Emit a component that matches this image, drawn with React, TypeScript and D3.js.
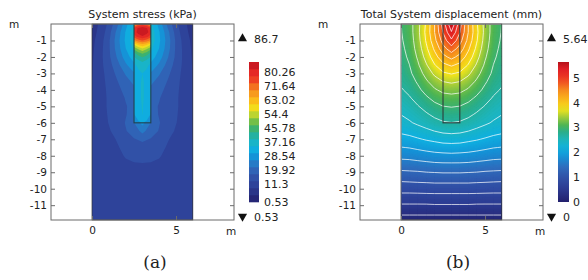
import { useEffect, useRef } from "react";
import * as d3 from "d3";

// model grid, metres (x across, y depth)
const gridX = [0, 0.5, 1, 1.5, 2, 2.5, 3, 3.5, 4, 4.5, 5, 5.5, 6];
const gridY = [0, -0.5, -1, -1.5, -2, -2.5, -3, -3.5, -4, -4.5, -5, -5.5, -6, -6.5, -7, -7.5, -8, -8.5, -9, -9.5, -10, -10.5, -11, -11.5, -12];
const pileX = [2.5, 2.75, 3, 3.25, 3.5];
const pileY = [0, -0.25, -0.5, -0.75, -1, -1.25, -1.5, -1.75, -2, -2.25, -2.5, -3, -3.5, -4, -4.5, -5, -5.5, -6];

// system stress in the soil (kPa), rows follow gridY
const stressSoil = [
  [7.0, 10.0, 14.5, 21.0, 29.0, 36.0, 36.0, 36.0, 29.0, 21.0, 14.5, 10.0, 7.0],
  [7.5, 10.5, 16.0, 23.5, 31.0, 38.0, 38.0, 38.0, 31.0, 23.5, 16.0, 10.5, 7.5],
  [8.0, 11.5, 17.0, 24.5, 31.5, 38.0, 38.0, 38.0, 31.5, 24.5, 17.0, 11.5, 8.0],
  [8.3, 12.0, 17.0, 24.0, 30.5, 36.0, 36.0, 36.0, 30.5, 24.0, 17.0, 12.0, 8.3],
  [8.6, 12.2, 16.8, 22.5, 28.5, 33.0, 33.0, 33.0, 28.5, 22.5, 16.8, 12.2, 8.6],
  [8.8, 12.2, 16.0, 20.5, 25.5, 29.5, 29.5, 29.5, 25.5, 20.5, 16.0, 12.2, 8.8],
  [9.0, 12.0, 15.2, 18.8, 22.5, 26.0, 26.0, 26.0, 22.5, 18.8, 15.2, 12.0, 9.0],
  [9.2, 12.0, 14.6, 17.5, 20.5, 23.0, 23.0, 23.0, 20.5, 17.5, 14.6, 12.0, 9.2],
  [9.4, 12.0, 14.2, 16.6, 19.0, 21.0, 21.0, 21.0, 19.0, 16.6, 14.2, 12.0, 9.4],
  [9.6, 12.0, 14.0, 16.0, 18.0, 19.8, 19.8, 19.8, 18.0, 16.0, 14.0, 12.0, 9.6],
  [9.8, 12.0, 14.0, 16.0, 17.5, 19.0, 19.0, 19.0, 17.5, 16.0, 14.0, 12.0, 9.8],
  [10.0, 12.0, 13.8, 15.8, 17.5, 19.5, 19.5, 19.5, 17.5, 15.8, 13.8, 12.0, 10.0],
  [10.0, 11.8, 13.6, 15.5, 18.0, 22.0, 28.0, 22.0, 18.0, 15.5, 13.6, 11.8, 10.0],
  [10.0, 11.5, 13.0, 15.0, 17.5, 19.5, 23.5, 19.5, 17.5, 15.0, 13.0, 11.5, 10.0],
  [10.0, 11.0, 12.0, 13.8, 16.0, 17.5, 18.5, 17.5, 16.0, 13.8, 12.0, 11.0, 10.0],
  [10.0, 10.8, 11.6, 13.0, 14.8, 16.0, 16.3, 16.0, 14.8, 13.0, 11.6, 10.8, 10.0],
  [10.0, 10.5, 11.2, 12.4, 13.8, 14.4, 14.6, 14.4, 13.8, 12.4, 11.2, 10.5, 10.0],
  [10.0, 10.3, 10.9, 11.8, 12.8, 13.2, 13.3, 13.2, 12.8, 11.8, 10.9, 10.3, 10.0],
  [10.0, 10.2, 10.6, 11.2, 11.8, 12.0, 12.0, 12.0, 11.8, 11.2, 10.6, 10.2, 10.0],
  [10.0, 10.1, 10.4, 10.8, 11.2, 11.4, 11.4, 11.4, 11.2, 10.8, 10.4, 10.1, 10.0],
  [10.0, 10.1, 10.3, 10.6, 10.9, 11.0, 11.0, 11.0, 10.9, 10.6, 10.3, 10.1, 10.0],
  [10.0, 10.0, 10.2, 10.4, 10.6, 10.7, 10.7, 10.7, 10.6, 10.4, 10.2, 10.0, 10.0],
  [10.0, 10.0, 10.1, 10.3, 10.4, 10.5, 10.5, 10.5, 10.4, 10.3, 10.1, 10.0, 10.0],
  [10.0, 10.0, 10.1, 10.2, 10.3, 10.3, 10.3, 10.3, 10.3, 10.2, 10.1, 10.0, 10.0],
  [10.0, 10.0, 10.0, 10.1, 10.2, 10.2, 10.2, 10.2, 10.2, 10.1, 10.0, 10.0, 10.0],
];

// system stress inside the pile (kPa), rows follow pileY
const stressPile = [
  [66, 72, 75, 72, 66],
  [78, 83, 85, 83, 78],
  [80, 84, 86.5, 84, 80],
  [76, 80, 82, 80, 76],
  [68, 72, 74, 72, 68],
  [57, 62, 64, 62, 57],
  [49, 53, 56, 53, 49],
  [43, 47, 49, 47, 43],
  [39, 42, 44, 42, 39],
  [36, 38.5, 40, 38.5, 36],
  [34, 36, 37, 36, 34],
  [32, 34, 35, 34, 32],
  [31.5, 34, 35.5, 34, 31.5],
  [31, 34, 35.5, 34, 31],
  [31, 34, 35.5, 34, 31],
  [31, 33.5, 35.3, 33.5, 31],
  [30.5, 32.5, 35.1, 32.5, 30.5],
  [29, 30, 31, 30, 29],
];

// total displacement (mm), rows follow gridY
const dispSoil = [
  [2.95, 3.10, 3.40, 3.80, 4.30, 4.95, 5.60, 4.95, 4.30, 3.80, 3.40, 3.10, 2.95],
  [2.94, 3.09, 3.41, 3.83, 4.30, 4.85, 5.35, 4.85, 4.30, 3.83, 3.41, 3.09, 2.94],
  [2.92, 3.07, 3.38, 3.79, 4.22, 4.68, 5.05, 4.68, 4.22, 3.79, 3.38, 3.07, 2.92],
  [2.89, 3.04, 3.33, 3.70, 4.08, 4.46, 4.72, 4.46, 4.08, 3.70, 3.33, 3.04, 2.89],
  [2.86, 3.00, 3.26, 3.59, 3.92, 4.21, 4.38, 4.21, 3.92, 3.59, 3.26, 3.00, 2.86],
  [2.82, 2.95, 3.18, 3.46, 3.74, 3.96, 4.06, 3.96, 3.74, 3.46, 3.18, 2.95, 2.82],
  [2.78, 2.90, 3.09, 3.32, 3.55, 3.72, 3.78, 3.72, 3.55, 3.32, 3.09, 2.90, 2.78],
  [2.73, 2.83, 2.99, 3.18, 3.36, 3.49, 3.53, 3.49, 3.36, 3.18, 2.99, 2.83, 2.73],
  [2.66, 2.75, 2.89, 3.05, 3.19, 3.29, 3.32, 3.29, 3.19, 3.05, 2.89, 2.75, 2.66],
  [2.58, 2.66, 2.78, 2.91, 3.03, 3.11, 3.13, 3.11, 3.03, 2.91, 2.78, 2.66, 2.58],
  [2.50, 2.57, 2.67, 2.78, 2.88, 2.95, 2.97, 2.95, 2.88, 2.78, 2.67, 2.57, 2.50],
  [2.42, 2.48, 2.56, 2.65, 2.74, 2.80, 2.82, 2.80, 2.74, 2.65, 2.56, 2.48, 2.42],
  [2.34, 2.39, 2.46, 2.53, 2.60, 2.66, 2.68, 2.66, 2.60, 2.53, 2.46, 2.39, 2.34],
  [2.20, 2.24, 2.30, 2.36, 2.42, 2.47, 2.49, 2.47, 2.42, 2.36, 2.30, 2.24, 2.20],
  [2.04, 2.07, 2.12, 2.17, 2.21, 2.25, 2.26, 2.25, 2.21, 2.17, 2.12, 2.07, 2.04],
  [1.87, 1.89, 1.93, 1.97, 2.00, 2.03, 2.04, 2.03, 2.00, 1.97, 1.93, 1.89, 1.87],
  [1.69, 1.70, 1.73, 1.76, 1.79, 1.80, 1.81, 1.80, 1.79, 1.76, 1.73, 1.70, 1.69],
  [1.50, 1.51, 1.53, 1.55, 1.57, 1.58, 1.58, 1.58, 1.57, 1.55, 1.53, 1.51, 1.50],
  [1.30, 1.31, 1.32, 1.34, 1.35, 1.36, 1.36, 1.36, 1.35, 1.34, 1.32, 1.31, 1.30],
  [1.10, 1.11, 1.12, 1.13, 1.14, 1.14, 1.14, 1.14, 1.14, 1.13, 1.12, 1.11, 1.10],
  [0.91, 0.91, 0.92, 0.92, 0.93, 0.93, 0.93, 0.93, 0.93, 0.92, 0.92, 0.91, 0.91],
  [0.71, 0.71, 0.71, 0.72, 0.72, 0.72, 0.72, 0.72, 0.72, 0.72, 0.71, 0.71, 0.71],
  [0.51, 0.51, 0.51, 0.51, 0.52, 0.52, 0.52, 0.52, 0.52, 0.51, 0.51, 0.51, 0.51],
  [0.31, 0.31, 0.31, 0.31, 0.31, 0.31, 0.31, 0.31, 0.31, 0.31, 0.31, 0.31, 0.31],
  [0.10, 0.10, 0.10, 0.10, 0.10, 0.10, 0.10, 0.10, 0.10, 0.10, 0.10, 0.10, 0.10],
];

const stressRange = [0.53, 86.7];
const dispRange = [0, 5.64];
const stressBarLabels = [80.26, 71.64, 63.02, 54.4, 45.78, 37.16, 28.54, 19.92, 11.3, 0.53];
const dispBarLabels = [0, 1, 2, 3, 4, 5];
const depthTicks = [-1, -2, -3, -4, -5, -6, -7, -8, -9, -10, -11];
const distTicks = [0, 5];

const cmapStops = [0, 0.1, 0.18, 0.25, 0.32, 0.38, 0.44, 0.5, 0.55, 0.61, 0.66, 0.72, 0.8, 0.88, 0.95, 1];
const cmapColors = ["#221f6c", "#2d3c93", "#3152a8", "#2f6dbd", "#1690d6", "#0fb0e0", "#1cb5c0", "#2aae8a", "#4fb553", "#a6cd39", "#f0e41c", "#fbbf1a", "#f58a1f", "#ee3c23", "#e01f26", "#b5121b"];
const cmap = d3.scaleLinear<string>().domain(cmapStops).range(cmapColors).interpolate(d3.interpolateRgb).clamp(true);

const FONT = "DejaVu Sans";

function fieldPath(xs: number[], ys: number[], x: any, y: any) {
  const ix = d3.scaleLinear().domain(d3.range(xs.length)).range(xs).clamp(true);
  const iy = d3.scaleLinear().domain(d3.range(ys.length)).range(ys).clamp(true);
  return d3.geoPath(
    d3.geoTransform({
      point(px: number, py: number) {
        (this as any).stream.point(x(ix(px - 0.5)), y(iy(py - 0.5)));
      },
    })
  );
}

function contoursOf(xs: number[], ys: number[], rows: number[][], levels: number[]) {
  return d3.contours().size([xs.length, ys.length]).thresholds(levels)(rows.flat());
}

function drawPanel(svg: any, p: any) {
  const left = p.left;
  const right = left + 183;
  const top = 24;
  const bottom = 220;
  const x = d3.scaleLinear().domain([-2.44, 8.45]).range([left, right]);
  const y = d3.scaleLinear().domain([0, -11.9]).range([top, bottom]);
  const g = svg.append("g");

  const defs = g.append("defs");
  defs.append("clipPath").attr("id", p.id + "-clip").append("rect")
    .attr("x", x(0)).attr("y", y(0)).attr("width", x(6) - x(0)).attr("height", y(-11.9) - y(0));
  defs.append("clipPath").attr("id", p.id + "-lclip").append("rect")
    .attr("x", x(0) + 0.8).attr("y", y(0) + 0.8).attr("width", x(6) - x(0) - 1.6).attr("height", y(-11.9) - y(0) - 1.6);

  const field = g.append("g").attr("clip-path", `url(#${p.id}-clip)`);
  const [lo, hi] = p.range;

  if (p.kind === "stress") {
    const levels = d3.range(21).map((k) => lo + (k * (hi - lo)) / 20);
    const soilPath = fieldPath(gridX, gridY, x, y);
    field.append("g").selectAll("path")
      .data(contoursOf(gridX, gridY, stressSoil, levels.slice(0, 20)))
      .join("path")
      .attr("d", soilPath)
      .attr("fill", (_: any, i: number) => cmap((i + 0.5) / 20));
    const pilePath = fieldPath(pileX, pileY, x, y);
    field.append("g").selectAll("path")
      .data(contoursOf(pileX, pileY, stressPile, levels.slice(0, 20)))
      .join("path")
      .attr("d", pilePath)
      .attr("fill", (_: any, i: number) => cmap((i + 0.5) / 20));
  } else {
    const step = 0.04;
    const fillLevels = d3.range(0, hi, step);
    const soilPath = fieldPath(gridX, gridY, x, y);
    field.append("g").selectAll("path")
      .data(contoursOf(gridX, gridY, dispSoil, fillLevels))
      .join("path")
      .attr("d", soilPath)
      .attr("fill", (d: any) => cmap((d.value + step / 2) / hi))
      .attr("stroke", (d: any) => cmap((d.value + step / 2) / hi))
      .attr("stroke-width", 0.3);
    // 20 evenly spaced contour levels
    const lineLevels = d3.range(1, 21).map((k) => (k * hi) / 21);
    g.append("g").attr("clip-path", `url(#${p.id}-lclip)`).selectAll("path")
      .data(contoursOf(gridX, gridY, dispSoil, lineLevels))
      .join("path")
      .attr("d", soilPath)
      .attr("fill", "none")
      .attr("stroke", "#ffffff")
      .attr("stroke-opacity", 0.8)
      .attr("stroke-width", 0.9);
  }

  // pile and domain outlines
  g.append("rect")
    .attr("x", x(2.5)).attr("y", y(0)).attr("width", x(3.5) - x(2.5)).attr("height", y(-6) - y(0))
    .attr("fill", "none").attr("stroke", p.kind === "stress" ? "#23414c" : "#2f3b3b").attr("stroke-width", 1.1);
  g.append("rect")
    .attr("x", x(0)).attr("y", y(0)).attr("width", x(6) - x(0)).attr("height", y(-11.9) - y(0))
    .attr("fill", "none").attr("stroke", "#333").attr("stroke-width", 0.7);

  // frame and inward ticks
  const styleAxis = (sel: any) => {
    sel.select(".domain").remove();
    sel.selectAll("line").attr("stroke", "#6b6b6b");
    sel.selectAll("text").attr("fill", "#222").attr("font-family", FONT).attr("font-size", 10.5);
  };
  g.append("g").attr("transform", `translate(${left},0)`)
    .call(d3.axisLeft(y).tickValues(depthTicks).tickSize(-4).tickPadding(4).tickFormat((d: any) => String(d)))
    .call(styleAxis);
  g.append("g").attr("transform", `translate(${right},0)`)
    .call(d3.axisRight(y).tickValues(depthTicks).tickSize(-4).tickFormat(() => ""))
    .call(styleAxis);
  g.append("g").attr("transform", `translate(0,${bottom})`)
    .call(d3.axisBottom(x).tickValues(distTicks).tickSize(-4).tickPadding(7).tickFormat((d: any) => String(d)))
    .call(styleAxis);
  g.append("g").attr("transform", `translate(0,${top})`)
    .call(d3.axisTop(x).tickValues(distTicks).tickSize(-4).tickFormat(() => ""))
    .call(styleAxis);
  g.append("rect")
    .attr("x", left).attr("y", top).attr("width", right - left).attr("height", bottom - top)
    .attr("fill", "none").attr("stroke", "#6b6b6b").attr("stroke-width", 1);

  // texts
  const txt = (tx: number, ty: number, s: string, size: number, anchor = "start", family = FONT) =>
    g.append("text").attr("x", tx).attr("y", ty).attr("font-family", family).attr("font-size", size)
      .attr("fill", "#222").attr("text-anchor", anchor).text(s);
  txt((left + right) / 2, 18, p.title, 11, "middle");
  txt(left - 37, 28, "m", 10.5, "middle");
  txt(right - 3, 235, "m", 10.5, "middle");
  txt(p.captionX, 268, p.caption, 17, "middle", "DejaVu Serif");

  // colour bar
  const bx = right + 15;
  const bw = p.kind === "stress" ? 10 : 11;
  const cb = d3.scaleLinear().domain([lo, hi]).range([202, 62]);
  if (p.kind === "stress") {
    const levels = d3.range(21).map((k) => lo + (k * (hi - lo)) / 20);
    g.append("g").selectAll("rect").data(d3.range(20)).join("rect")
      .attr("x", bx).attr("width", bw)
      .attr("y", (k: number) => cb(levels[k + 1]))
      .attr("height", (k: number) => cb(levels[k]) - cb(levels[k + 1]) + 0.3)
      .attr("fill", (k: number) => cmap((k + 0.5) / 20));
  } else {
    const grad = defs.append("linearGradient").attr("id", p.id + "-grad")
      .attr("x1", 0).attr("y1", 1).attr("x2", 0).attr("y2", 0);
    grad.selectAll("stop").data(d3.range(0, 1.0001, 0.05)).join("stop")
      .attr("offset", (t: number) => t).attr("stop-color", (t: number) => cmap(t));
    g.append("rect").attr("x", bx).attr("y", 62).attr("width", bw).attr("height", 140)
      .attr("fill", `url(#${p.id}-grad)`);
  }
  g.append("g").selectAll("text").data(p.barLabels).join("text")
    .attr("x", right + 30).attr("y", (v: number) => cb(v)).attr("dy", "0.36em")
    .attr("font-family", FONT).attr("font-size", 11).attr("fill", "#222")
    .text((v: number) => String(v));

  // max / min markers
  const tri = d3.symbol(d3.symbolTriangle, 36)();
  g.append("path").attr("d", tri).attr("transform", `translate(${right + 8.5},38.5)`).attr("fill", "#111");
  g.append("path").attr("d", tri).attr("transform", `translate(${right + 8.5},216.5) rotate(180)`).attr("fill", "#111");
  txt(right + 20, 43, String(hi), 11);
  txt(right + 20, 220.5, String(lo), 11);
}

export default function App() {
  const ref = useRef<SVGSVGElement>(null);

  useEffect(() => {
    document.body.style.margin = "0";
    const svg = d3.select(ref.current);
    svg.selectAll("*").remove();
    drawPanel(svg, {
      id: "pa", left: 51, kind: "stress", range: stressRange, title: "System stress (kPa)",
      caption: "(a)", captionX: 155, barLabels: stressBarLabels,
    });
    drawPanel(svg, {
      id: "pb", left: 360, kind: "disp", range: dispRange, title: "Total System displacement (mm)",
      caption: "(b)", captionX: 458, barLabels: dispBarLabels,
    });
  }, []);

  return (
    <svg ref={ref} width={588} height={280} style={{ display: "block", background: "#fff" }} />
  );
}
